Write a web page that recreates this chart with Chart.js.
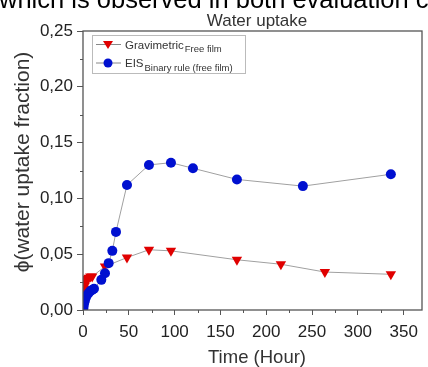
<!DOCTYPE html>
<html><head><meta charset="utf-8">
<script src="https://cdn.jsdelivr.net/npm/chart.js@4"></script>
<style>html,body{margin:0;padding:0;background:#fff;}#wrap{position:relative;width:428px;height:367px;}</style>
</head><body><div id="wrap"><canvas id="c" width="428" height="367"></canvas></div>
<script>
const gravTime = [0.5, 1, 2, 3, 4, 5, 6, 8, 10, 24, 48, 72, 96, 168, 216, 264, 336];
const gravPhi  = [0.015, 0.019, 0.022, 0.025, 0.027, 0.028, 0.029, 0.030, 0.030, 0.039, 0.047, 0.054, 0.053, 0.045, 0.041, 0.034, 0.032];
const eisTime  = [0.5, 1, 2, 3, 4, 6, 8, 10, 12, 20, 24, 28, 32, 36, 48, 72, 96, 120, 168, 240, 336];
const eisPhi   = [0.002, 0.005, 0.008, 0.011, 0.013, 0.015, 0.017, 0.018, 0.019, 0.027, 0.033, 0.042, 0.053, 0.070, 0.112, 0.130, 0.132, 0.127, 0.117, 0.111, 0.1216];
const xTickLabels = [0, 50, 100, 150, 200, 250, 300, 350];
const yTickLabels = ['0,00', '0,05', '0,10', '0,15', '0,20', '0,25'];
const chartTitle = 'Water uptake';
const xTitle = 'Time (Hour)';
const yTitle = 'ϕ(water uptake fraction)';
const captionText = 'which is observed in both evaluation c';
const legendItems = [
  {main: 'Gravimetric', sub: 'Free film', color: '#e00000', shape: 'tri'},
  {main: 'EIS', sub: 'Binary rule (free film)', color: '#0010d0', shape: 'circ'}
];

const FONT = '"Liberation Sans", Arial, sans-serif';
const toPts = (xs, ys) => xs.map((x, i) => ({x: x, y: ys[i]}));

const decor = {
  id: 'decor',
  afterDraw(chart) {
    const ctx = chart.ctx;
    const a = chart.chartArea;
    const xs = chart.scales.x, ys = chart.scales.y;
    ctx.save();
    // minor ticks
    ctx.strokeStyle = '#555';
    ctx.lineWidth = 1;
    for (let v = 25; v <= 370; v += 50) {
      const px = Math.round(xs.getPixelForValue(v)) + 0.5;
      ctx.beginPath(); ctx.moveTo(px, a.bottom); ctx.lineTo(px, a.bottom + 3); ctx.stroke();
    }
    for (let v = 0.025; v < 0.25; v += 0.05) {
      const py = Math.round(ys.getPixelForValue(v)) + 0.5;
      ctx.beginPath(); ctx.moveTo(a.left, py); ctx.lineTo(a.left - 3, py); ctx.stroke();
    }
    // frame
    ctx.strokeStyle = '#555';
    ctx.lineWidth = 1.3;
    ctx.strokeRect(a.left, a.top, a.right - a.left, a.bottom - a.top);
    // caption
    ctx.fillStyle = '#000';
    ctx.font = '25.5px ' + FONT;
    ctx.textBaseline = 'alphabetic';
    ctx.textAlign = 'left';
    ctx.fillText(captionText, -1, 8);
    // title
    ctx.fillStyle = '#333';
    ctx.font = '17px ' + FONT;
    ctx.textAlign = 'center';
    ctx.fillText(chartTitle, 257, 26);
    // x title
    ctx.font = '18.5px ' + FONT;
    ctx.fillText(xTitle, 257, 363);
    // y title
    ctx.save();
    ctx.translate(29, 162);
    ctx.rotate(-Math.PI / 2);
    ctx.font = '21px ' + FONT;
    ctx.fillText(yTitle, 0, 0);
    ctx.restore();
    // legend
    const lx = 92, ly = 35, lw = 153, lh = 38;
    ctx.strokeStyle = '#bbb';
    ctx.lineWidth = 1;
    ctx.strokeRect(lx + 0.5, ly + 0.5, lw, lh);
    legendItems.forEach((it, i) => {
      const yy = 44.5 + i * 18.5;
      ctx.strokeStyle = '#888';
      ctx.lineWidth = 1;
      ctx.beginPath(); ctx.moveTo(96, yy); ctx.lineTo(121, yy); ctx.stroke();
      ctx.fillStyle = it.color;
      ctx.beginPath();
      if (it.shape === 'tri') {
        ctx.moveTo(103, yy - 3.5); ctx.lineTo(113, yy - 3.5); ctx.lineTo(108, yy + 4.5); ctx.closePath();
      } else {
        ctx.arc(108, yy, 4.5, 0, Math.PI * 2);
      }
      ctx.fill();
      ctx.fillStyle = '#333';
      ctx.textAlign = 'left';
      ctx.font = '11.5px ' + FONT;
      ctx.fillText(it.main, 125, yy + 4);
      const w = ctx.measureText(it.main).width;
      ctx.font = '9.5px ' + FONT;
      ctx.fillText(it.sub, 125 + w + 1, yy + 7.5);
    });
    ctx.restore();
  }
};

new Chart(document.getElementById('c'), {
  type: 'scatter',
  data: {
    datasets: [
      {
        label: 'Gravimetric', data: toPts(gravTime, gravPhi), order: 1,
        showLine: true, borderColor: '#a0a0a0', borderWidth: 1,
        pointStyle: 'triangle', rotation: 180, pointRadius: 6,
        pointBackgroundColor: '#e00000', pointBorderColor: '#e00000', pointBorderWidth: 0
      },
      {
        label: 'EIS', data: toPts(eisTime, eisPhi), order: 0,
        showLine: true, borderColor: '#a0a0a0', borderWidth: 1,
        pointStyle: 'circle', pointRadius: 5,
        pointBackgroundColor: '#0010d0', pointBorderColor: '#0010d0', pointBorderWidth: 0
      }
    ]
  },
  options: {
    responsive: false, animation: false,
    layout: {padding: {top: 31, right: 4, left: 0, bottom: 0}},
    plugins: {legend: {display: false}, tooltip: {enabled: false}, title: {display: false}},
    scales: {
      x: {
        type: 'linear', min: 0, max: 370,
        afterFit(s) { s.height = 57; },
        afterBuildTicks(s) { s.ticks = xTickLabels.map(v => ({value: v})); },
        ticks: {
          autoSkip: false, maxRotation: 0, padding: 7, color: '#222',
          font: {family: FONT, size: 17},
          callback: (v) => String(v)
        },
        grid: {drawOnChartArea: false, drawTicks: true, tickLength: 5, color: '#555', tickColor: '#555'},
        border: {display: false}
      },
      y: {
        min: 0, max: 0.25,
        afterFit(s) { s.width = 83; },
        afterBuildTicks(s) { s.ticks = yTickLabels.map((t, i) => ({value: i * 0.05})); },
        ticks: {
          autoSkip: false, padding: 4, color: '#222',
          font: {family: FONT, size: 17},
          callback: (v) => yTickLabels[Math.round(v / 0.05)]
        },
        grid: {drawOnChartArea: false, drawTicks: true, tickLength: 6, color: '#555', tickColor: '#555'},
        border: {display: false}
      }
    }
  },
  plugins: [decor]
});
</script></body></html>
